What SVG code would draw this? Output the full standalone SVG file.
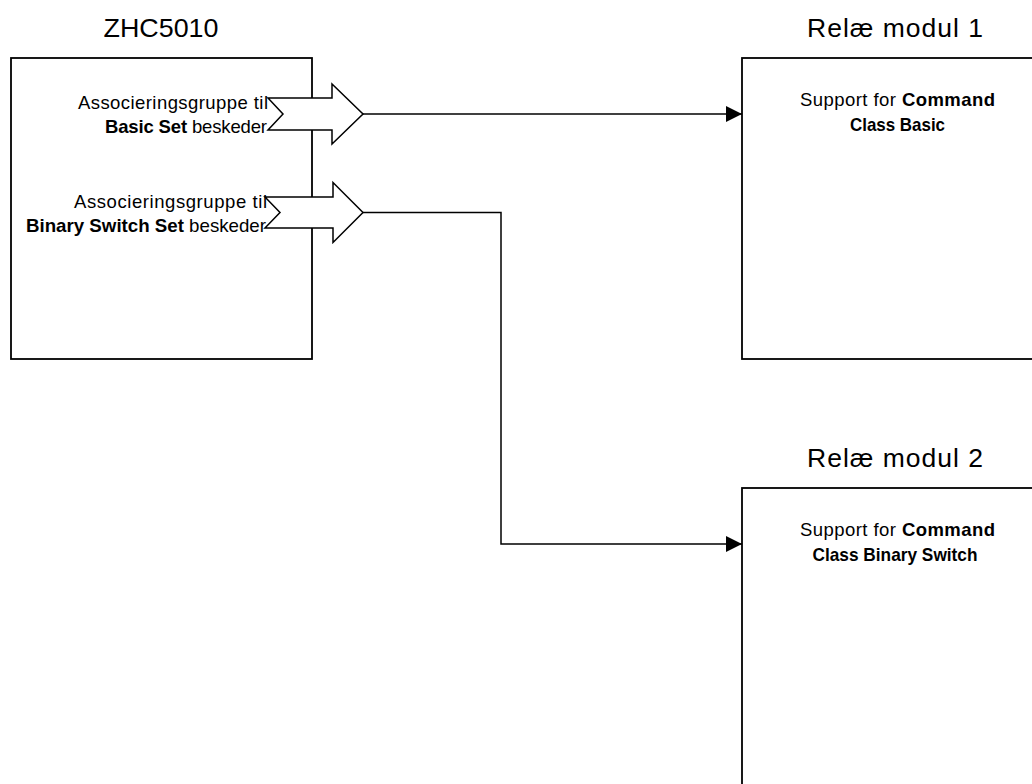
<svg xmlns="http://www.w3.org/2000/svg" width="1032" height="784" viewBox="0 0 1032 784">
<style>
.box{fill:#fff;stroke:#000;stroke-width:1.8}
.blk{fill:#fff;stroke:#000;stroke-width:1.5;stroke-linejoin:miter}
.con{fill:none;stroke:#000;stroke-width:1.5}
.title{font-family:"Liberation Sans",Arial,sans-serif;font-size:26.5px;fill:#000;text-anchor:middle}
.lbl{font-family:"Liberation Sans",Arial,sans-serif;font-size:18.5px;fill:#000}
.b{font-weight:bold}
</style>
<defs>
<marker id="ah" markerUnits="userSpaceOnUse" markerWidth="16" markerHeight="16" viewBox="0 0 16 16" refX="16" refY="8" orient="auto">
<path d="M0,0 L16,8 L0,16 Z" fill="#000"/>
</marker>
</defs>
<g id="zhc5010">
<rect class="box" x="11" y="58" width="301" height="301"/>
<text class="title" x="161" y="37" textLength="115" lengthAdjust="spacingAndGlyphs">ZHC5010</text>
</g>
<g id="relae1">
<rect class="box" x="742" y="58" width="312" height="301"/>
<text class="title" x="895" y="37" textLength="176">Relæ modul 1</text>
<text class="lbl" x="897.5" y="106" text-anchor="middle" textLength="195">Support for <tspan class="b">Command</tspan></text>
<text class="lbl b" x="897.5" y="131" text-anchor="middle" textLength="95" lengthAdjust="spacingAndGlyphs">Class Basic</text>
</g>
<g id="relae2">
<rect class="box" x="742" y="488" width="312" height="310"/>
<text class="title" x="895" y="467" textLength="176">Relæ modul 2</text>
<text class="lbl" x="897.5" y="536" text-anchor="middle" textLength="195">Support for <tspan class="b">Command</tspan></text>
<text class="lbl b" x="895" y="561" text-anchor="middle" textLength="165" lengthAdjust="spacingAndGlyphs">Class Binary Switch</text>
</g>
<g id="connectors">
<path class="con" d="M363,114 H742" marker-end="url(#ah)"/>
<path class="con" d="M363,212.5 H501 V544 H742" marker-end="url(#ah)"/>
</g>
<g id="arrow-basic">
<path class="blk" d="M268,98 H332 V84 L363,114 L332,144 V130 H268 L283,114 Z"/>
<text class="lbl" x="268" y="109" text-anchor="end" textLength="190">Associeringsgruppe til</text>
<text class="lbl" x="267" y="133" text-anchor="end" textLength="162"><tspan class="b">Basic Set</tspan> beskeder</text>
</g>
<g id="arrow-binary">
<path class="blk" d="M265,197 H333 V182.5 L363,212.5 L333,242.5 V228 H265 L280,212.5 Z"/>
<text class="lbl" x="267" y="208" text-anchor="end" textLength="193">Associeringsgruppe til</text>
<text class="lbl" x="266" y="232" text-anchor="end" textLength="240" lengthAdjust="spacingAndGlyphs"><tspan class="b">Binary Switch Set</tspan> beskeder</text>
</g>
</svg>
